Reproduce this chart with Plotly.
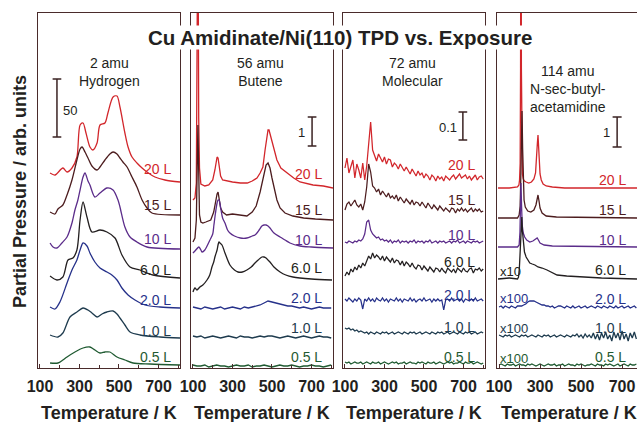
import plotly.graph_objects as go

# ---------------- data ----------------
exposures = ["20 L", "15 L", "10 L", "6.0 L", "2.0 L", "1.0 L", "0.5 L"]
colors = ["#d2262b", "#4c1c1e", "#5b2c8a", "#231f20", "#26318a", "#1e3b4e", "#1f5a31"]

panel_masses = ["2 amu<br>Hydrogen", "56 amu<br>Butene", "72 amu<br>Molecular",
                "114 amu<br>N-sec-butyl-<br>acetamidine"]
scale_labels = ["50", "1", "0.1", "1"]
tick_vals = [100, 300, 500, 700]
multipliers = ["", "", "", "x10", "x100", "x100", "x100"]

# ---- Panel 1 : 2 amu (Hydrogen) ----
p1_T_20 = [151, 176, 216, 237, 262, 287, 303, 318, 333, 353, 368, 389, 404, 429, 444, 470, 490, 505, 530, 546, 566, 591, 617, 642, 682, 733, 809]
p1_20 = [9, 7, 14, 10, 14, 25, 57, 59, 49, 35, 32, 39, 57, 59, 69, 85, 86, 75, 49, 35, 25, 19, 14, 10, 5, 2, 0]
p1_T_15 = [151, 176, 191, 216, 237, 262, 287, 303, 313, 328, 343, 363, 389, 404, 429, 454, 470, 490, 505, 520, 541, 566, 591, 617, 642, 667, 809]
p1_15 = [3, 1, 6, 10, 20, 35, 55, 66, 68, 63, 57, 49, 45, 48, 55, 61, 63, 61, 57, 53, 48, 38, 28, 15, 7, 2, 0]
p1_T_10 = [151, 166, 186, 211, 237, 262, 277, 292, 303, 318, 328, 343, 353, 378, 404, 439, 470, 495, 505, 530, 556, 591, 642, 809]
p1_10 = [6, 2, 1, 6, 12, 26, 39, 49, 59, 72, 76, 68, 64, 52, 56, 61, 59, 49, 42, 22, 12, 7, 2, 0]
p1_T_6 = [151, 186, 216, 242, 267, 287, 303, 318, 338, 363, 404, 439, 480, 515, 556, 606, 672, 809]
p1_6 = [2, -2, 1, 18, 20, 28, 58, 76, 61, 46, 48, 46, 40, 23, 11, 8, 3, 0]
p1_T_2 = [151, 176, 201, 237, 262, 287, 303, 318, 338, 353, 378, 404, 439, 464, 490, 515, 546, 581, 632, 708, 809]
p1_2 = [1, -1, 6, 25, 38, 48, 58, 65, 62, 55, 46, 40, 36, 33, 28, 20, 13, 8, 3, 1, 0]
p1_T_1 = [151, 191, 216, 252, 287, 318, 343, 363, 389, 414, 439, 470, 490, 505, 530, 556, 606, 708, 809]
p1_1 = [3, 1, 5, 21, 26, 30, 28, 25, 21, 24, 26, 27, 24, 20, 13, 6, 3, 1, 0]
p1_T_05 = [151, 191, 216, 237, 277, 318, 353, 378, 404, 429, 454, 490, 530, 571, 657, 809]
p1_05 = [2, 2, 5, 8, 13, 17, 18, 15, 12, 13, 13, 8, 5, 2, 1, 0]
p1_base = [186, 153, 119, 90, 60, 30, 3]

# ---- Panel 2 : 56 amu (Butene) ----
p2_T_20 = [100, 110, 117, 121, 125, 129, 133, 140, 160, 180, 200, 211, 218, 222, 227, 232, 240, 250, 270, 300, 340, 375, 400, 424, 440, 454, 465, 475, 480, 485, 490, 500, 512, 525, 545, 576, 610, 642, 708, 760, 809]
p2_20 = [-12, -10, 5, 60, 300, 70, 20, 4, 2, 3, 8, 18, 28, 31, 30, 22, 12, 8, 7, 6, 5, 5, 7, 10, 15, 21, 38, 55, 58, 58, 54, 46, 36, 28, 20, 15, 10, 6, 3, 2, 0]
p2_T_15 = [100, 110, 117, 121, 125, 129, 133, 140, 150, 165, 190, 205, 215, 222, 227, 232, 240, 250, 270, 300, 340, 373, 400, 420, 440, 455, 470, 480, 490, 500, 512, 525, 541, 566, 606, 660, 720, 809]
p2_15 = [-22, -18, 0, 40, 95, 50, 5, -2, -3, -2, 0, 8, 20, 26, 28, 22, 12, 8, 5, 6, 5, 4, 8, 14, 28, 42, 55, 57, 52, 42, 30, 20, 12, 7, 4, 2, 1, 0]
p2_T_10 = [100, 110, 130, 140, 146, 160, 186, 200, 206, 214, 222, 227, 232, 237, 242, 250, 262, 275, 287, 310, 340, 373, 400, 414, 435, 449, 460, 470, 480, 490, 510, 541, 566, 591, 642, 700, 809]
p2_10 = [-5, -3, 1, -2, -4, -2, 8, 14, 23, 35, 45, 48, 48, 44, 38, 30, 25, 18, 15, 12, 10, 10, 12, 13, 18, 22, 23, 23, 22, 20, 15, 11, 8, 5, 2, 1, 0]
p2_T_6 = [100, 110, 120, 135, 150, 171, 185, 196, 205, 211, 222, 228, 232, 237, 247, 262, 287, 310, 328, 350, 373, 395, 414, 430, 449, 460, 470, 480, 490, 510, 541, 570, 606, 700, 804]
p2_6 = [-12, -8, -10, -7, -5, 0, 5, 13, 18, 23, 30, 36, 38, 37, 35, 27, 15, 10, 8, 8, 10, 13, 17, 20, 23, 23, 22, 20, 18, 13, 8, 5, 3, 1, 0]
p2_T_low = list(range(100, 801, 20))
p2_2 = [1, 0, -1, 1, 0, -1, 0, 1, -1, 0, 1, 0, -1, 1, 0, 1, 2, 3, 5, 7, 6, 5, 4, 3, 2, 2, 1, 0, 1, 0, -1, 0, 1, 0, 0, 0]
p2_1 = [1, 0, 1, -1, 0, 1, 0, -1, 0, 1, 0, -1, 1, 0, 0, -1, 0, 1, 0, 1, 1, 0, -1, 0, 1, 0, -1, 0, 1, 0, -1, 0, 1, 0, 0, -1]
p2_05 = [1, 0, 0, 1, -1, 0, 1, 0, 0, -1, 0, 1, 0, 0, 1, -1, 0, 0, 1, 0, -1, 0, 1, 0, 0, 1, 0, -1, 0, 0, 1, 0, 0, -1, 0, 1]
p2_base = [180, 148, 120, 88, 60, 31, 2]

# ---- Panel 3 : 72 amu (Molecular) ----
p3_T = list(range(100, 801, 10))
p3_20 = [10, 20, 5, 12, 18, 0, 14, 8, 0, 15,
         -2, 12, 38, 56, 28, 22, 17, 24, 20, 16,
         21, 14, 19, 18, 11, 15, 13, 9, 14, 10,
         7, 11, 8, 4, 9, 6, 2, 7, 3, 5,
         0, 4, 2, -2, 3, 1, -3, 2, -1, 1,
         -3, 2, 0, -2, 1, 3, -1, 1, 4, 0,
         2, 3, -1, 2, -2, 0, 3, -2, 1, 2,
         -1]
p3_15 = [2, 8, 10, 6, 9, 12, 7, 5, 8, 2,
         10, 25, 48, 40, 26, 24, 20, 23, 17, 21,
         18, 15, 19, 14, 16, 13, 17, 11, 15, 12,
         9, 13, 11, 8, 12, 7, 10, 9, 6, 10,
         7, 4, 9, 6, 3, 7, 5, 2, 6, 4,
         1, 4, 2, 0, 4, 3, -1, 3, 1, 4,
         1, 3, 0, 2, 4, 0, 3, 1, 3, 0,
         1]
p3_10 = [0, -1, 1, 0, -1, 1, 0, 2, 1, 3,
         8, 20, 22, 12, 8, 6, 4, 5, 2, 3,
         1, 2, 0, 2, -1, 1, 0, 2, -1, 1,
         0, 1, -1, 1, 0, 2, -1, 1, 0, 1,
         -1, 1, 0, 2, -1, 0, 1, -1, 1, 0,
         1, -1, 0, 1, -1, 1, 0, 2, -1, 0,
         1, -1, 1, 0, -1, 1, 0, 1, -1, 0,
         1]
p3_6 = [-6, -2, -5, 1, -2, 3, 0, 5, 2, 7,
        4, 10, 14, 11, 17, 12, 15, 13, 10, 14,
        9, 13, 11, 8, 12, 7, 10, 9, 5, 9,
        4, 8, 6, 3, 7, 3, 1, 5, 4, 0,
        4, 2, -1, 3, 0, -2, 2, 1, -2, 2,
        -1, -3, 2, 0, -2, 1, -3, 2, 0, -2,
        2, -1, -2, 1, 2, -3, 1, 0, 2, -1,
        1]
p3_2 = [1, -1, 2, 0, -2, 1, -1, 2, 0, -9,
        1, -1, 2, -1, 1, -2, 2, 0, -1, 2,
        -1, 1, -2, 1, 0, -1, 2, -1, 1, -2,
        1, 0, -1, 2, -1, 1, -2, 0, 1, -1,
        2, -1, 0, 1, -2, 1, -1, 1, -1, 0,
        -10, 0, 1, -1, 2, -1, 0, 1, -1, 1,
        -2, 1, 0, -1, 1, -1, 2, -1, 0, 1,
        -1]
p3_1 = [5, 4, 5, 3, 4, 2, 3, 1, 2, 1,
        0, 1, -1, 1, 0, -1, 1, 0, -1, 1,
        0, 1, -1, 0, 1, -1, 0, 1, 0, -1,
        1, 0, -1, 1, 0, 1, -1, 0, 1, -1,
        0, 1, 0, -1, 1, 0, -1, 1, 0, 1,
        -1, 0, 1, -1, 0, 1, 0, -1, 1, 0,
        -1, 1, 0, 1, -1, 0, 1, -1, 0, 1,
        0]
p3_05 = [1, 0, 1, -1, 0, 1, 0, 0, 1, -1,
         0, 1, 0, -1, 1, 0, 0, 1, -1, 0,
         1, 0, -1, 0, 1, 0, 1, -1, 0, 0,
         1, -1, 0, 1, 0, 0, -1, 1, 0, 1,
         0, -1, 1, 0, 0, 1, -1, 0, 1, 0,
         -1, 0, 1, 0, 1, -1, 0, 0, 1, 0,
         -1, 1, 0, 0, 1, -1, 0, 1, 0, -1,
         0]
p3_base = [190, 156, 126, 98, 68, 35, 5]

# ---- Panel 4 : 114 amu (N-sec-butyl-acetamidine) ----
p4_T_20 = [95, 150, 190, 197, 200, 203, 205, 207, 209, 211, 214, 218, 224, 232, 245, 258, 270, 278, 283, 287, 290, 293, 296, 300, 306, 315, 330, 360, 420, 773]
p4_20 = [0, 0, 1, 3, 8, 25, 120, 400, 120, 30, 14, 9, 7, 6, 5, 6, 9, 15, 27, 45, 53, 42, 25, 14, 8, 4, 2, 1, 0, 0]
p4_T_15 = [95, 190, 198, 203, 206, 209, 212, 215, 218, 222, 228, 240, 255, 270, 280, 285, 290, 295, 300, 310, 330, 380, 773]
p4_15 = [0, 0, 3, 12, 40, 85, 107, 70, 35, 18, 11, 7, 6, 8, 13, 19, 23, 17, 10, 5, 2, 1, 0]
p4_T_10 = [95, 190, 198, 202, 205, 207, 210, 213, 218, 225, 235, 250, 265, 280, 286, 292, 300, 320, 360, 773]
p4_10 = [0, 0, 2, 15, 45, 64, 40, 22, 14, 10, 7, 5, 6, 8, 9, 7, 4, 2, 1, 0]
p4_T_6 = [95, 150, 190, 195, 199, 203, 207, 211, 214, 218, 224, 232, 240, 250, 262, 275, 290, 310, 334, 360, 383, 430, 495, 600, 773]
p4_6 = [0, 1, 0, 2, 10, 30, 50, 62, 48, 35, 27, 22, 19, 16, 15, 14, 12, 11, 9, 6, 4, 3, 2, 1, 0]
p4_T_low = list(range(100, 771, 10))
p4_2 = [0, 1, -1, 1, 0, -1, 1, 0, -1, 1,
        1, 1, 2, 3, 5, 6, 6, 6, 5, 4,
        3, 2, 2, 1, 1, 0, 1, -1, 0, 1,
        1, 0, -1, 1, 0, -1, 1, -1, 0, 1,
        -1, 0, 1, -1, 0, 1, 0, -1, 1, 0,
        -1, 1, 0, -1, 1, 0, -1, 1, -1, 0,
        1, -1, 0, 1, -1, 0, 1, -1]
p4_1 = [1, 0, -1, 1, 0, 1, -1, 0, 1, 0,
        -1, 1, 0, 1, -1, 0, 1, 0, -1, 1,
        0, -1, 1, 0, 1, -1, 0, 1, -1, 0,
        1, 0, -1, 1, 0, -1, 1, 0, 2, -1,
        1, -2, 2, -1, 1, -2, 3, -3, 2, -4,
        3, -2, 4, -3, 1, -5, 4, -2, 3, -4,
        5, -3, 2, -5, 3, -2, 4, -3]
p4_05 = [0, 1, 0, -1, 1, 0, 0, 1, -1, 0,
         1, 0, 0, -1, 1, 0, 1, 0, -1, 0,
         1, 0, -1, 0, 1, 0, 0, 1, -1, 0,
         0, 1, -1, 0, 1, 0, 0, -1, 1, 0,
         1, 0, -1, 0, 0, 1, 0, -1, 1, 0,
         0, -1, 1, 0, 1, 0, -1, 0, 1, -1,
         0, 1, 0, -1, 1, 0, 0, 1]
p4_base = [180, 150, 121, 89, 61, 32, 3]

panels = [
    dict(T=[p1_T_20, p1_T_15, p1_T_10, p1_T_6, p1_T_2, p1_T_1, p1_T_05],
         S=[p1_20, p1_15, p1_10, p1_6, p1_2, p1_1, p1_05], base=p1_base,
         shape=["spline"] * 7, width=1.3),
    dict(T=[p2_T_20, p2_T_15, p2_T_10, p2_T_6, p2_T_low, p2_T_low, p2_T_low],
         S=[p2_20, p2_15, p2_10, p2_6, p2_2, p2_1, p2_05], base=p2_base,
         shape=["linear", "linear", "spline", "spline", "linear", "linear", "linear"], width=1.3),
    dict(T=[p3_T] * 7,
         S=[p3_20, p3_15, p3_10, p3_6, p3_2, p3_1, p3_05], base=p3_base,
         shape=["linear"] * 7, width=1.25),
    dict(T=[p4_T_20, p4_T_15, p4_T_10, p4_T_6, p4_T_low, p4_T_low, p4_T_low],
         S=[p4_20, p4_15, p4_10, p4_6, p4_2, p4_1, p4_05], base=p4_base,
         shape=["linear"] * 7, width=1.3),
]

# ---------------- layout helpers ----------------
FONT = "Liberation Sans, Arial, Helvetica, sans-serif"
FRAME = "#4a2b2b"
TXT = "#231f20"
domains = [[0, 0.23706], [0.25543, 0.49249], [0.50918, 0.74624], [0.76628, 1.0]]
xranges = [[90, 809], [90, 809], [90, 809], [90, 773]]
label_x = [773, 763, 768, 729]
label_y = [[199, 163, 129, 98, 68, 37, 11],
           [194, 158, 128, 100, 70, 40, 11],
           [203, 168, 133, 106, 73, 41, 11],
           [188, 158, 128, 98, 69, 40, 11]]
mass_pos = [(454, 296), (444, 296), (444, 296), (437, 279)]
bar_x = [186, 703, 697, 676]
bar_y = [(231, 289), (222, 251), (228, 256), (221, 251)]
bar_lab = [(252, 258), (647, 236), (621, 241), (622, 236)]
mult_y = [0, 0, 0, 97, 70, 40, 10]
title_x_px = [109, 262, 414, 569]

fig = go.Figure()
annotations = []
shapes = []

for i, p in enumerate(panels):
    sfx = "" if i == 0 else str(i + 1)
    xa, ya = "x" + sfx, "y" + sfx
    for k in range(7):
        yvals = [p["base"][k] + v for v in p["S"][k]]
        fig.add_trace(go.Scatter(
            x=p["T"][k], y=yvals, mode="lines", xaxis=xa, yaxis=ya,
            line=dict(color=colors[k], width=p["width"], shape=p["shape"][k], smoothing=0.8),
            showlegend=False, hoverinfo="skip"))
        annotations.append(dict(
            x=label_x[i], y=label_y[i][k], xref=xa, yref=ya, text=exposures[k],
            showarrow=False, xanchor="right", yanchor="middle",
            font=dict(family=FONT, size=14, color=colors[k])))
    mx, my = mass_pos[i]
    annotations.append(dict(x=mx, y=my, xref=xa, yref=ya, text=panel_masses[i],
                            showarrow=False, xanchor="center", yanchor="middle",
                            font=dict(family=FONT, size=14, color=TXT)))
    # scale bar
    bx = bar_x[i]
    y0, y1 = bar_y[i]
    shapes.append(dict(type="line", xref=xa, yref=ya, x0=bx, x1=bx, y0=y0, y1=y1,
                       line=dict(color="#3a2222", width=1.5)))
    for yy in (y0, y1):
        shapes.append(dict(type="line", xref=xa, yref=ya, x0=bx - 22, x1=bx + 22, y0=yy, y1=yy,
                           line=dict(color="#3a2222", width=1.5)))
    lx, ly = bar_lab[i]
    annotations.append(dict(x=lx, y=ly, xref=xa, yref=ya, text=scale_labels[i],
                            showarrow=False, xanchor="center", yanchor="middle",
                            font=dict(family=FONT, size=13, color=TXT)))
    # axis title
    annotations.append(dict(x=(title_x_px[i] - 38) / 599, y=(368 - 413) / 355,
                            xref="paper", yref="paper", text="Temperature / K",
                            showarrow=False, xanchor="center", yanchor="middle",
                            font=dict(family=FONT, size=18, color=TXT, weight="bold")))

    fig.update_layout(**{
        "xaxis" + sfx: dict(domain=domains[i], range=xranges[i], anchor=ya,
                            showline=True, mirror=True, linecolor=FRAME, linewidth=1.2,
                            ticks="inside", ticklen=4, tickwidth=1, tickcolor=FRAME,
                            tickvals=tick_vals, ticktext=[str(v) for v in tick_vals],
                            ticklabelstandoff=4,
                            tickfont=dict(family=FONT, size=16, color=TXT, weight="bold"),
                            minor=dict(ticks="inside", ticklen=3, tickvals=[200, 400, 600, 800],
                                       tickcolor=FRAME, showgrid=False),
                            showgrid=False, zeroline=False),
        "yaxis" + sfx: dict(domain=[0, 1], range=[0, 355], anchor=xa,
                            showline=True, mirror=(i < 3), linecolor=FRAME, linewidth=1.2,
                            showticklabels=False, ticks="", showgrid=False, zeroline=False),
    })

# multipliers in panel 4
for k in range(7):
    if multipliers[k]:
        annotations.append(dict(x=95, y=mult_y[k], xref="x4", yref="y4", text=multipliers[k],
                                showarrow=False, xanchor="left", yanchor="middle",
                                font=dict(family=FONT, size=13, color=colors[k])))

# main title with white box breaking the frames
annotations.append(dict(x=(340 - 38) / 599, y=(368 - 37) / 355, xref="paper", yref="paper",
                        text="Cu Amidinate/Ni(110) TPD vs. Exposure", showarrow=False,
                        xanchor="center", yanchor="middle", bgcolor="white", borderpad=0,
                        font=dict(family=FONT, size=20.5, color=TXT, weight="bold")))
# y title
annotations.append(dict(x=(20 - 38) / 599, y=(368 - 192) / 355, xref="paper", yref="paper",
                        text="Partial Pressure / arb. units", showarrow=False, textangle=-90,
                        xanchor="center", yanchor="middle",
                        font=dict(family=FONT, size=18, color=TXT, weight="bold")))

fig.update_layout(width=637, height=422, margin=dict(l=38, r=0, t=13, b=54),
                  paper_bgcolor="white", plot_bgcolor="white",
                  annotations=annotations, shapes=shapes, showlegend=False)

fig.write_html("out.html")
